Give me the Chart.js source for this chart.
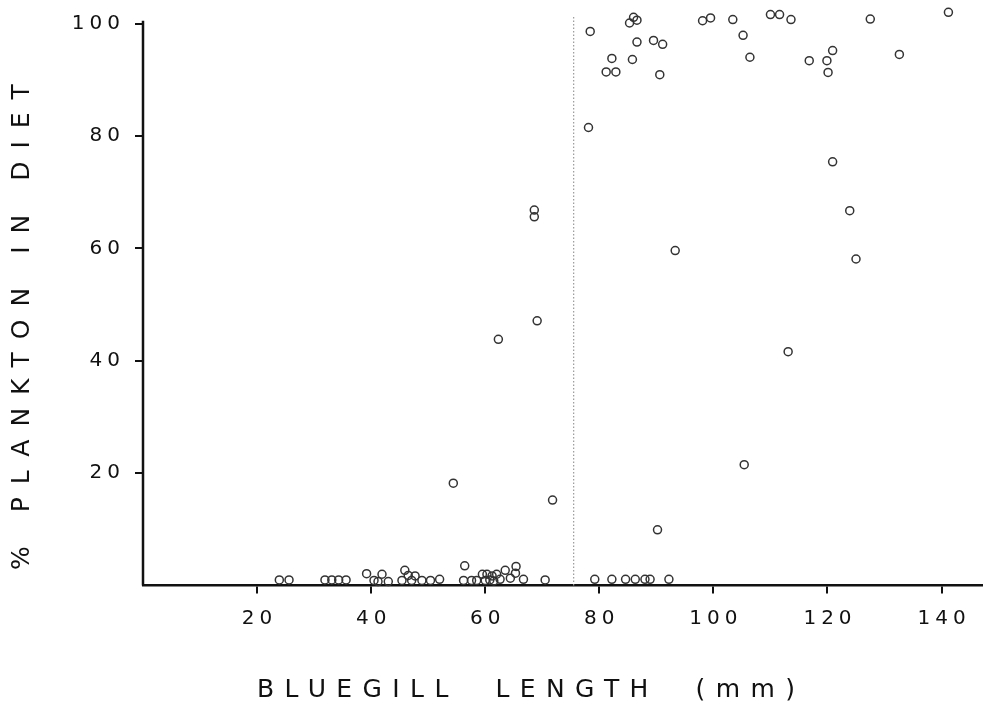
<!DOCTYPE html>
<html>
<head>
<meta charset="utf-8">
<script src="https://cdn.jsdelivr.net/npm/chart.js@4"></script>
<style>
    html, body { margin: 0; padding: 0; background: #fff; }
    #wrap { width: 987px; height: 707px; position: relative; }
</style>
</head>
<body>
<div id="wrap"><canvas id="scatterChart"></canvas></div>
<script>
// bluegill length (mm) and % plankton in diet
const lengthsMm = [
    23.9, 25.6, 31.9, 33.1, 34.3, 35.6, 39.2, 40.5, 41.2, 41.9,
    43.0, 45.4, 45.9, 46.5, 47.1, 47.7, 48.9, 50.4, 52.0, 56.2,
    56.4, 57.6, 58.5, 59.5, 60.0, 60.3, 60.8, 61.2, 61.5, 62.0,
    62.6, 63.5, 64.4, 65.3, 65.4, 66.7, 70.5,
    54.4, 62.3, 68.6, 68.6, 69.1, 71.8,
    79.2, 82.2, 84.6, 86.3, 88.0, 88.9, 92.2,
    78.1, 93.3, 90.2, 105.4, 113.1, 120.9, 123.9, 125.0,
    78.4, 85.3, 86.0, 86.6, 86.6, 82.2, 85.8, 81.2, 82.9, 89.5,
    91.1, 90.6, 98.1, 99.5, 103.4, 105.2, 106.4, 110.0, 111.6, 113.6,
    116.8, 119.9, 120.9, 120.1, 127.5, 132.6, 141.2
];
const planktonPct = [
    1.0, 1.0, 1.0, 1.0, 1.0, 1.0, 2.1, 0.9, 0.7, 2.0,
    0.7, 0.9, 2.7, 1.8, 0.9, 1.7, 0.9, 0.9, 1.1, 0.9,
    3.5, 0.9, 0.9, 2.0, 0.9, 2.0, 1.0, 1.7, 0.8, 2.0,
    1.1, 2.7, 1.3, 2.2, 3.4, 1.1, 1.0,
    18.2, 43.8, 66.8, 65.6, 47.1, 15.2,
    1.1, 1.1, 1.1, 1.1, 1.1, 1.1, 1.1,
    81.5, 59.6, 9.9, 21.5, 41.6, 75.4, 66.7, 58.1,
    98.6, 100.1, 101.1, 100.6, 96.7, 93.8, 93.6, 91.4, 91.4, 97.0,
    96.3, 90.9, 100.5, 101.0, 100.7, 97.9, 94.0, 101.6, 101.6, 100.7,
    93.4, 93.4, 95.2, 91.3, 100.8, 94.5, 102.0
];

const xTickValues = [20, 40, 60, 80, 100, 120, 140];
const yTickValues = [20, 40, 60, 80, 100];

const yAxisSpan = [0, 100.5];    // drawn y axis line
const cutoffLength = 75.5;       // dotted divider
const cutoffSpan = [0, 101.5];   // its vertical extent (% units)

const xTitle = 'BLUEGILL  LENGTH  (mm)';
const yTitle = '% PLANKTON IN DIET';

const inkColor = '#111';

// letter spaced text like the original typesetting
const spacedText = {
    id: 'spacedText',
    beforeDraw(chart) {
        chart.ctx.letterSpacing = '5px';
    },
    afterDraw(chart) {
        const ctx = chart.ctx;
        ctx.save();
        ctx.fillStyle = inkColor;
        ctx.font = '25px "DejaVu Sans"';
        ctx.textBaseline = 'middle';
        ctx.textAlign = 'left';
        ctx.letterSpacing = '10.4px';
        ctx.fillText(xTitle, 257, 690);
        ctx.translate(22, 570);
        ctx.rotate(-Math.PI / 2);
        ctx.letterSpacing = '13px';
        ctx.fillText(yTitle, 0, 0);
        ctx.restore();
    }
};

const points = lengthsMm.map((x, i) => ({x: x, y: planktonPct[i]}));

const ctx = document.getElementById('scatterChart');

const myChart = new Chart(ctx, {
    type: 'scatter',
    data: {
        datasets: [
            {
                label: 'Bluegill',
                data: points,
                pointStyle: 'circle',
                pointRadius: 4,
                pointBorderWidth: 1.5,
                pointBorderColor: '#333',
                pointBackgroundColor: 'rgba(0,0,0,0)',
                pointHoverRadius: 4,
                clip: false
            },
            {
                type: 'line',
                label: 'cutoff',
                data: cutoffSpan.map(v => ({x: cutoffLength, y: v})),
                borderColor: '#999',
                borderWidth: 1.2,
                borderDash: [1.5, 2],
                pointRadius: 0,
                fill: false,
                clip: false
            },
            {
                type: 'line',
                label: 'y axis',
                data: yAxisSpan.map(v => ({x: 0, y: v})),
                borderColor: inkColor,
                borderWidth: 2.5,
                pointRadius: 0,
                fill: false,
                clip: false
            }
        ]
    },
    options: {
        responsive: true,
        maintainAspectRatio: false,
        animation: false,
        events: [],
        layout: {
            padding: {top: 9.5, right: 4, left: 0, bottom: 0}
        },
        scales: {
            x: {
                type: 'linear',
                min: 0,
                max: 147,
                afterBuildTicks: scale => {
                    scale.ticks = xTickValues.map(v => ({value: v}));
                },
                afterFit: scale => {
                    scale.height = 121.5;
                    scale.paddingLeft = 0;
                    scale.paddingRight = 0;
                },
                ticks: {
                    color: inkColor,
                    padding: 13,
                    labelOffset: 2.5,
                    maxRotation: 0,
                    autoSkip: false,
                    font: {family: 'DejaVu Sans', size: 20}
                },
                grid: {
                    display: true,
                    drawOnChartArea: false,
                    drawTicks: true,
                    tickLength: 8,
                    color: inkColor,
                    lineWidth: 2
                },
                border: {color: inkColor, width: 2.5},
                title: {display: false}
            },
            y: {
                type: 'linear',
                min: 0,
                max: 102.5,
                afterBuildTicks: scale => {
                    scale.ticks = yTickValues.map(v => ({value: v}));
                },
                afterFit: scale => {
                    scale.width = 143;
                    scale.paddingTop = 0;
                    scale.paddingBottom = 0;
                },
                ticks: {
                    color: inkColor,
                    padding: 10,
                    autoSkip: false,
                    font: {family: 'DejaVu Sans', size: 20}
                },
                grid: {
                    display: true,
                    drawOnChartArea: false,
                    drawTicks: true,
                    tickLength: 8,
                    color: inkColor,
                    lineWidth: 2
                },
                border: {display: false},
                title: {display: false}
            }
        },
        plugins: {
            legend: {display: false},
            tooltip: {enabled: false},
            title: {display: false}
        }
    },
    plugins: [spacedText]
});
</script>
</body>
</html>
